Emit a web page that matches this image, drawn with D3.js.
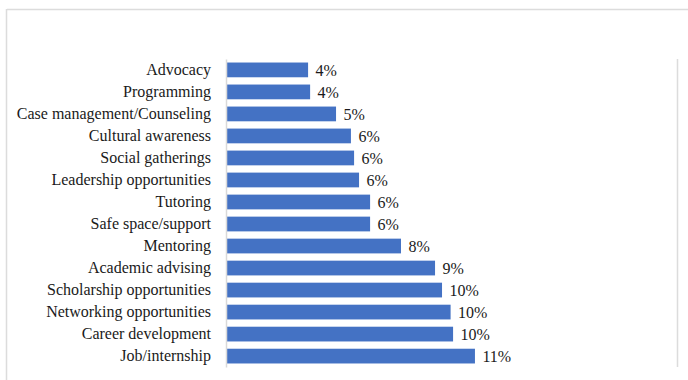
<!DOCTYPE html>
<html>
<head>
<meta charset="utf-8">
<script src="https://cdn.jsdelivr.net/npm/d3@7"></script>
<style>
  html, body { margin: 0; padding: 0; background: #fff; }
  svg { display: block; }
  svg text { font-family: "Liberation Serif", "Times New Roman", serif; }
</style>
</head>
<body>
<svg id="chart" width="688" height="380"></svg>
<script>
const categories = [
  "Advocacy", "Programming", "Case management/Counseling", "Cultural awareness",
  "Social gatherings", "Leadership opportunities", "Tutoring", "Safe space/support",
  "Mentoring", "Academic advising", "Scholarship opportunities",
  "Networking opportunities", "Career development", "Job/internship"
];
const values = [
  0.0364, 0.0373, 0.0488, 0.0554, 0.0568, 0.0590, 0.0639, 0.0639,
  0.0776, 0.0927, 0.0958, 0.0996, 0.1007, 0.1104
];
const valueLabels = ["4%", "4%", "5%", "6%", "6%", "6%", "6%", "6%", "8%", "9%", "10%", "10%", "10%", "11%"];
const axisDomain = [0, 0.20];

const svg = d3.select("#chart");
const W = 688, H = 380;
const plot = { left: 226, right: 677, top: 59, bottom: 367 };
const FONT = "'Liberation Serif', 'Times New Roman', serif";

// outer frame (partial, as cropped)
svg.append("line").attr("x1", 7).attr("x2", W).attr("y1", 9.5).attr("y2", 9.5)
  .attr("stroke", "#dcdcdc").attr("stroke-width", 1.5);
svg.append("line").attr("x1", 6.5).attr("x2", 6.5).attr("y1", 9).attr("y2", H)
  .attr("stroke", "#dcdcdc").attr("stroke-width", 1.5);
svg.append("line").attr("x1", 677.5).attr("x2", 677.5).attr("y1", plot.top).attr("y2", plot.bottom)
  .attr("stroke", "#dcdcdc").attr("stroke-width", 1.5);

const x = d3.scaleLinear().domain(axisDomain).range([plot.left, plot.right]);
const y = d3.scaleBand().domain(categories).range([plot.top, plot.bottom]).paddingInner(0.33).paddingOuter(0.16);

const data = categories.map((c, i) => ({ c, v: values[i], l: valueLabels[i] }));

svg.append("g").selectAll("rect").data(data).join("rect")
  .attr("x", x(0))
  .attr("y", d => y(d.c))
  .attr("width", d => x(d.v) - x(0))
  .attr("height", y.bandwidth())
  .attr("fill", "#4472C4");

// category axis
const yAxis = d3.axisLeft(y).tickSize(0).tickPadding(15);
const gy = svg.append("g").attr("transform", `translate(${plot.left},0)`).call(yAxis)
  .attr("font-family", null).attr("font-size", null);
gy.select(".domain").attr("stroke", "#d9d9d9").attr("stroke-width", 1.5);
gy.selectAll("text")
  .style("font-family", FONT)
  .style("font-size", "16px")
  .attr("fill", "#1a1a1a");

// value labels
svg.append("g").selectAll("text").data(data).join("text")
  .attr("x", d => x(d.v) + 7.5)
  .attr("y", d => y(d.c) + y.bandwidth() / 2)
  .attr("dy", "0.36em")
  .style("font-family", FONT)
  .style("font-size", "16px")
  .attr("fill", "#1a1a1a")
  .text(d => d.l);
</script>
</body>
</html>
